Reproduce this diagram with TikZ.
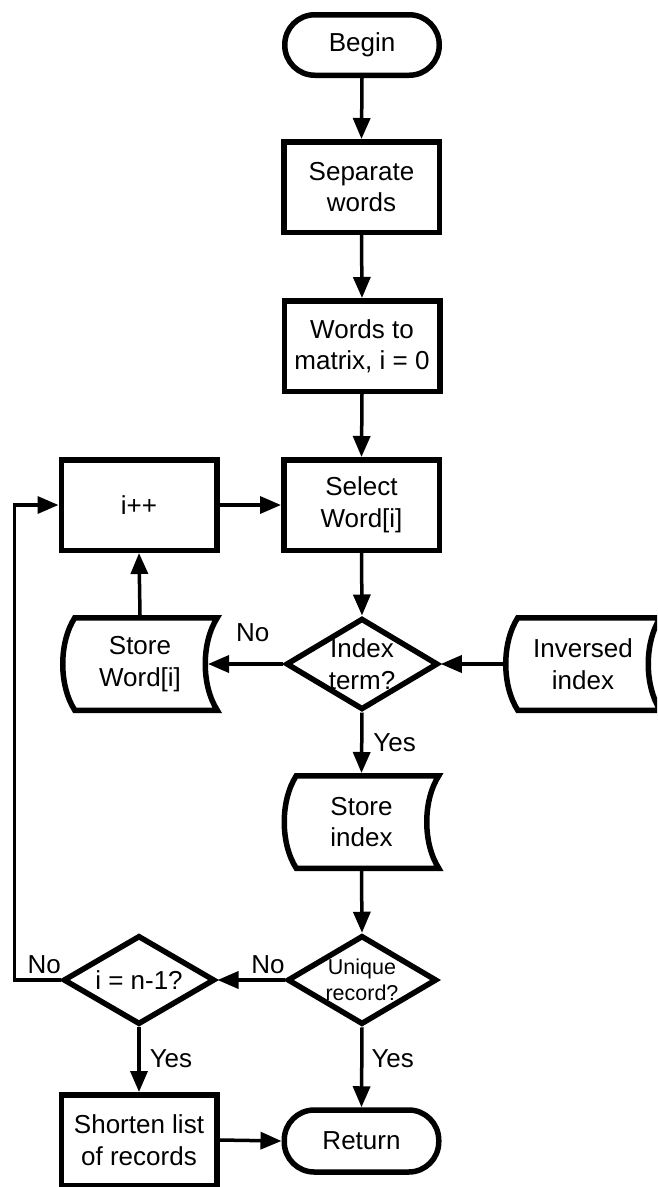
\documentclass[tikz,border=0pt]{standalone}
\usepackage{fontspec}
\setmainfont{Liberation Sans}
\usetikzlibrary{arrows.meta,shapes.geometric}

% outline of a "stored data" symbol: bulging left side, hollow right side
\newcommand{\storeoutline}[1]{%
  \draw[thickline] ([xshift=12pt]#1.north west) -- (#1.north east)
    .. controls ([xshift=-16pt,yshift=-25pt]#1.north east)
           and ([xshift=-16pt,yshift=25pt]#1.south east) .. (#1.south east)
    -- ([xshift=12pt]#1.south west)
    .. controls ([xshift=-4pt,yshift=25pt]#1.south west)
           and ([xshift=-4pt,yshift=-25pt]#1.north west) .. ([xshift=12pt]#1.north west)
    -- cycle;}

\tikzset{
  thickline/.style={line width=5.5pt, line join=miter},
  procbox/.style={rectangle, draw, thickline, minimum width=155.5pt, minimum height=90.5pt,
    align=center, inner sep=0pt},
  termbox/.style={rectangle, draw, thickline, rounded corners=30pt, minimum width=154.5pt,
    minimum height=60.5pt, align=center, inner sep=0pt},
  decision/.style={diamond, draw, thickline, inner sep=0pt},
  storebox/.style={rectangle, minimum width=154.5pt, minimum height=92.5pt, outer sep=0pt,
    inner sep=0pt, align=center},
  dtext/.style={align=center, inner sep=0pt},
  small/.style={font=\fontsize{21.5}{26.5}\selectfont},
  flow/.style={line width=3.5pt, -{Triangle[length=21pt,width=17pt]}},
  lbl/.style={inner sep=0pt}
}

\begin{document}
\begin{tikzpicture}[x=1pt, y=-1pt, font=\fontsize{26}{31.5}\selectfont]
  \useasboundingbox (0,0) rectangle (657,1187);
  \fill[white] (0,0) rectangle (657,1187);
  \clip (0,0) rectangle (657,1187);

  % main column
  \node[termbox] (begin) at (362,45) {Begin};
  \node[procbox] (sep) at (361.5,187) {Separate\\words};
  \node[procbox] (words) at (362,346) {Words to\\matrix, i = 0};
  \node[procbox] (select) at (361.5,505) {Select\\Word[i]};
  \node[procbox] (inc) at (139,505) {i++};

  \node[decision, minimum width=152pt, minimum height=91.5pt] (d1) at (362,664) {};
  \node[dtext] (d1t) at (d1) {Index\\term?};

  \node[storebox] (sw) at (140,664) {Store\\Word[i]};
  \storeoutline{sw}
  \node[storebox] (inv) at (583,664) {Inversed\\index};
  \storeoutline{inv}
  \node[storebox] (si) at (361.5,822) {Store\\index};
  \storeoutline{si}

  \node[decision, minimum width=149.5pt, minimum height=89pt] (d2) at (362,980) {};
  \node[dtext, small] (d2t) at (d2) {Unique\\record?};
  \node[decision, minimum width=151.5pt, minimum height=89pt] (d3) at (139,980) {};
  \node[dtext] (d3t) at (d3) {i = n-1?};

  \node[procbox] (short) at (139,1140) {Shorten list\\of records};
  \node[termbox, minimum height=62pt] (ret) at (361.5,1141) {Return};

  \coordinate (loop) at (14.3,980);

  % connectors
  \draw[flow] (begin.south) -- (sep.north);
  \draw[flow] (sep.south) -- (words.north);
  \draw[flow] (words.south) -- (select.north);
  \draw[flow] (inc.east) -- (select.west);
  \draw[flow] (select.south) -- (d1.north);
  \draw[flow] (d1.west) -- node[lbl, pos=0.65, anchor=base west, yshift=23pt] {No}
    ([xshift=-9.25pt]sw.east);
  \draw[flow] ([yshift=2.75pt]sw.north) -- (inc.south);
  \draw[flow] ([xshift=-2.75pt]inv.west) -- (d1.east);
  \draw[flow] (d1.south) -- node[lbl, pos=0.64, anchor=base west, xshift=10pt] {Yes}
    ([yshift=2.75pt]si.north);
  \draw[flow] ([yshift=-2.75pt]si.south) -- (d2.north);
  \draw[flow] (d2.west) -- node[lbl, pos=0.52, anchor=base west, yshift=7pt] {No} (d3.east);
  \draw[flow] (d3.west) -- node[lbl, pos=0.75, anchor=base west, yshift=7pt] {No} (loop)
    |- (inc.west);
  \draw[flow] (d3.south) -- node[lbl, pos=0.62, anchor=base west, xshift=9pt] {Yes} (short.north);
  \draw[flow] (d2.south) -- node[lbl, pos=0.5, anchor=base west, xshift=8pt] {Yes} (ret.north);
  \draw[flow] (short.east) -- (ret.west);
\end{tikzpicture}
\end{document}
